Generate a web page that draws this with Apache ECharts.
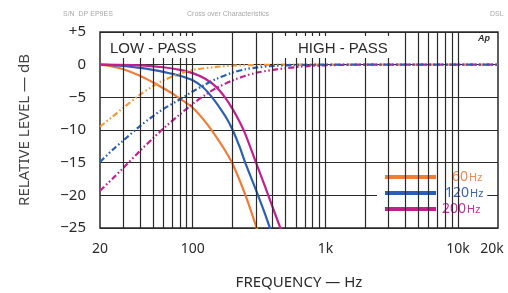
<!DOCTYPE html>
<html>
<head>
<meta charset="utf-8">
<script src="https://cdn.jsdelivr.net/npm/echarts@6/dist/echarts.min.js"></script>
<style>
  html, body { margin: 0; padding: 0; background: #fff; }
  #chart { width: 508px; height: 293px; }
</style>
</head>
<body>
<div id="chart"></div>
<script>
  // [Hz, dB]
  var lp60 = [[20, 0], [25, -0.3], [30, -0.7], [40, -1.7], [50, -2.7], [60, -3.6], [70, -4.4], [80, -5.2], [100, -6.6], [125, -8.8], [150, -11.0], [175, -13.1], [200, -15.2], [250, -20.0], [300, -24.7], [320, -26.5]];
  var lp120 = [[20, 0], [30, -0.2], [40, -0.5], [50, -0.8], [60, -1.1], [80, -1.7], [100, -2.4], [120, -3.5], [140, -5.0], [160, -6.6], [180, -8.2], [200, -10.0], [225, -12.5], [250, -15.1], [300, -19.2], [350, -22.8], [400, -26.2]];
  var lp200 = [[20, 0], [40, -0.1], [60, -0.4], [80, -0.8], [100, -1.3], [125, -2.2], [150, -3.4], [175, -5.0], [200, -6.8], [225, -8.7], [250, -10.7], [300, -15.0], [350, -18.6], [400, -21.8], [450, -24.6], [500, -27.0]];
  var hp60 = [[20, -9.5], [25, -7.9], [30, -6.6], [40, -4.6], [50, -3.3], [60, -2.4], [80, -1.4], [100, -0.8], [150, -0.35], [200, -0.15], [300, -0.05], [500, 0], [1000, 0], [20000, 0]];
  var hp120 = [[20, -14.9], [25, -13.0], [30, -11.6], [40, -9.4], [50, -7.9], [60, -6.8], [80, -5.3], [100, -4.1], [120, -3.2], [150, -2.2], [200, -1.2], [250, -0.7], [300, -0.45], [400, -0.2], [600, -0.05], [1000, 0], [20000, 0]];
  var hp200 = [[20, -19.3], [25, -17.4], [30, -15.8], [40, -13.2], [50, -11.3], [60, -9.8], [80, -7.6], [100, -6.0], [125, -4.6], [150, -3.6], [200, -2.4], [250, -1.7], [300, -1.25], [400, -0.8], [500, -0.55], [700, -0.25], [1000, -0.1], [2000, 0], [20000, 0]];

  // log grid lines (no lines above 10k)
  var gridFreqs = [30, 40, 50, 60, 70, 80, 90, 100, 200, 300, 400, 500, 600, 700, 800, 900,
    1000, 2000, 3000, 4000, 5000, 6000, 7000, 8000, 9000, 10000];
  var xLabels = [20, 100, 1000, 10000, 20000];

  var ORANGE = '#f37b35', ORANGE_HP = '#f59a38', BLUE = '#2b5fb4', MAGENTA = '#c3208e';
  var dashDot = [6, 2.5, 1.5, 2.5, 1.5, 2.5];
  var ink = '#2a2a2a';
  var font = 'Noto Sans';

  var myChart = echarts.init(document.getElementById('chart'));

  function curve(name, data, color, dashed) {
    return {
      type: 'line',
      name: name,
      data: data,
      z: 3,
      smooth: 0.3,
      symbol: 'none',
      silent: true,
      itemStyle: {color: color},
      lineStyle: {color: color, width: 2.2, type: dashed ? dashDot : 'solid'}
    };
  }

  myChart.setOption({
    animation: false,
    title: [
      {text: 'LOW - PASS', left: 101, top: 36, padding: [5, 2, 1, 9], backgroundColor: '#fff',
        textStyle: {fontSize: 15, fontWeight: 'normal', color: ink, fontFamily: 'Liberation Sans', lineHeight: 16}},
      {text: 'HIGH - PASS', left: 282, top: 36, padding: [5, 2, 1, 16], backgroundColor: '#fff',
        textStyle: {fontSize: 15, fontWeight: 'normal', color: ink, fontFamily: 'Liberation Sans', lineHeight: 16}},
      {text: 'Ap', left: 478, top: 34, padding: 0,
        textStyle: {fontSize: 9, fontStyle: 'italic', fontWeight: 'bold', color: ink, fontFamily: 'Liberation Sans'}},
      // faint header of the scan
      {text: 'S/N  DP EP9ES', left: 63, top: 11, padding: 0,
        textStyle: {fontSize: 7, fontWeight: 'normal', color: '#a8a8a8', fontFamily: 'Liberation Sans'}},
      {text: 'Cross over Characteristics', left: 187, top: 11, padding: 0,
        textStyle: {fontSize: 7, fontWeight: 'normal', color: '#a8a8a8', fontFamily: 'Liberation Sans'}},
      {text: 'DSL', left: 490, top: 11, padding: 0,
        textStyle: {fontSize: 7, fontWeight: 'normal', color: '#a8a8a8', fontFamily: 'Liberation Sans'}}
    ],
    legend: {
      orient: 'vertical',
      left: 377,
      top: 164,
      padding: [5, 4, 3, 8],
      itemGap: 0,
      itemWidth: 51,
      itemHeight: 4,
      icon: 'rect',
      selectedMode: false,
      backgroundColor: '#fff',
      data: ['60Hz', '120Hz', '200Hz'],
      formatter: function (name) {
        var k = name === '60Hz' ? 'o' : name === '120Hz' ? 'b' : 'm';
        return '{' + k + '|' + name.replace('Hz', '') + '}{' + k + 'h|Hz}';
      },
      textStyle: {
        lineHeight: 16,
        rich: {
          o: {color: '#ef8a4c', fontSize: 14, padding: [0, 1, 0, 11], fontFamily: font},
          oh: {color: '#ef8a4c', fontSize: 11, padding: [2, 0, 0, 0], fontFamily: font},
          b: {color: '#3d62ae', fontSize: 14, padding: [0, 1, 0, 4], fontFamily: font},
          bh: {color: '#3d62ae', fontSize: 11, padding: [2, 0, 0, 0], fontFamily: font},
          m: {color: '#c4309a', fontSize: 14, padding: [0, 1, 0, 1], fontFamily: font},
          mh: {color: '#c4309a', fontSize: 11, padding: [2, 0, 0, 0], fontFamily: font}
        }
      }
    },
    grid: {
      left: 100, top: 32, width: 398, height: 196,
      outerBoundsMode: 'none',
      containLabel: false,
      show: true, borderColor: ink, borderWidth: 1.5, backgroundColor: '#fff'
    },
    xAxis: {
      type: 'log',
      logBase: 10,
      min: 20,
      max: 20000,
      name: 'FREQUENCY — Hz',
      nameLocation: 'middle',
      nameGap: 47,
      nameTextStyle: {fontSize: 15, color: ink, fontFamily: font},
      axisLine: {show: false},
      axisTick: {show: false},
      splitLine: {show: false},
      axisLabel: {
        customValues: xLabels,
        margin: 14,
        fontSize: 14,
        color: ink,
        fontFamily: font,
        formatter: function (v) {
          if (v === 20000) {
            return '{r|20k}';
          }
          return v >= 1000 ? (v / 1000) + 'k' : String(v);
        },
        rich: {
          r: {fontSize: 14, color: ink, fontFamily: font, padding: [0, 12, 0, 0]}
        }
      }
    },
    yAxis: {
      type: 'value',
      min: -25,
      max: 5,
      interval: 5,
      name: 'RELATIVE LEVEL — dB',
      nameLocation: 'middle',
      nameGap: 68,
      nameTextStyle: {fontSize: 15, color: '#444', fontFamily: font},
      axisLine: {show: false},
      axisTick: {show: false},
      splitLine: {lineStyle: {color: ink, width: 1.2}},
      axisLabel: {
        margin: 14,
        fontSize: 15,
        color: ink,
        fontFamily: font,
        formatter: function (v) {
          return v > 0 ? '+' + v : v < 0 ? '−' + (-v) : '0';
        }
      }
    },
    series: [
      {
        type: 'line',
        name: 'grid',
        data: [],
        z: 1,
        silent: true,
        markLine: {
          silent: true,
          symbol: ['none', 'none'],
          label: {show: false},
          lineStyle: {color: ink, width: 1.2, type: 'solid'},
          data: gridFreqs.map(function (f) { return {xAxis: f}; })
        }
      },
      curve('60Hz', lp60, ORANGE, false),
      curve('120Hz', lp120, BLUE, false),
      curve('200Hz', lp200, MAGENTA, false),
      curve('60Hz HP', hp60, ORANGE_HP, true),
      curve('200Hz HP', hp200, MAGENTA, true),
      curve('120Hz HP', hp120, BLUE, true)
    ]
  });
</script>
</body>
</html>
